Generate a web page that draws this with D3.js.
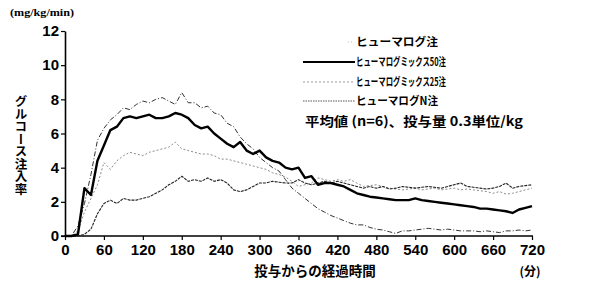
<!DOCTYPE html>
<html lang="ja">
<head>
<meta charset="UTF-8">
<title>グルコース注入率</title>
<script src="https://cdn.jsdelivr.net/npm/d3@7"></script>
<style>
  body { margin: 0; background: #fff; }
  text { fill: #000; }
</style>
</head>
<body>
<script>
// sampling times (min), one value every 10 min
var timeMin = d3.range(0, 721, 10);

// ヒューマログ注
var humalog = [0, 0, 0.6, 1.9, 3.6, 5.6, 6.3, 6.8, 7.1, 7.5,
  7.4, 7.7, 7.9, 7.8, 8.0, 8.1, 7.9, 7.7, 8.4, 7.8,
  7.8, 7.5, 7.6, 7.2, 7.1, 6.6, 6.4, 5.8, 5.4, 5.1,
  4.6, 4.3, 4.0, 3.8, 3.3, 2.8, 2.5, 2.2, 1.9, 1.6,
  1.4, 1.2, 1.05, 0.9, 0.75, 0.65, 0.65, 0.5, 0.4, 0.35,
  0.25, 0.15, 0.3, 0.3, 0.35, 0.4, 0.45, 0.4, 0.35, 0.4,
  0.35, 0.3, 0.3, 0.3, 0.25, 0.3, 0.25, 0.2, 0.3, 0.3,
  0.35, 0.3, 0.35];

// ヒューマログミックス50注
var mix50 = [0, 0, 0.1, 2.8, 2.4, 4.4, 5.3, 6.2, 6.4, 6.9,
  7.0, 6.9, 7.0, 7.1, 6.9, 6.9, 7.0, 7.2, 7.1, 6.9,
  6.5, 6.3, 6.4, 6.0, 5.7, 5.4, 5.2, 5.5, 5.0, 4.8,
  5.0, 4.6, 4.4, 4.3, 4.0, 3.9, 4.0, 3.4, 3.5, 3.0,
  3.1, 3.1, 3.0, 2.9, 2.7, 2.5, 2.4, 2.3, 2.25, 2.2,
  2.15, 2.1, 2.1, 2.1, 2.2, 2.1, 2.05, 2.0, 1.95, 1.9,
  1.85, 1.8, 1.75, 1.7, 1.6, 1.6, 1.55, 1.5, 1.45, 1.35,
  1.55, 1.65, 1.75];

// ヒューマログミックス25注
var mix25 = [0, 0, 0.3, 1.4, 2.2, 3.0, 4.3, 3.9, 4.4, 4.7,
  4.9, 4.8, 4.7, 4.9, 5.0, 5.1, 5.2, 5.5, 5.1, 5.0,
  4.9, 4.8, 4.8, 4.7, 4.5, 4.5, 4.4, 4.3, 4.2, 4.1,
  4.0, 3.9, 3.7, 3.6, 3.45, 3.2, 2.9, 3.0, 3.1, 3.4,
  3.3, 3.2, 3.3, 3.2, 3.3, 3.1, 2.9, 2.95, 3.0, 2.9,
  2.8, 2.75, 2.7, 2.75, 2.8, 2.7, 2.75, 2.8, 2.7, 2.75,
  2.8, 2.7, 2.75, 2.7, 2.65, 2.6, 2.5, 2.6, 2.45, 2.5,
  2.6, 2.7, 2.8];

// ヒューマログN注
var humalogN = [0, 0, 0, 0.1, 0.4, 1.3, 1.9, 2.1, 1.9, 2.2,
  2.1, 2.1, 2.2, 2.3, 2.5, 2.7, 3.0, 3.2, 3.5, 3.2,
  3.3, 3.2, 3.4, 3.2, 3.3, 3.1, 2.7, 2.6, 2.7, 2.9,
  3.1, 3.1, 3.2, 3.15, 3.1, 3.1, 3.3, 3.1, 3.0, 3.1,
  3.2, 3.1, 3.2, 3.1, 3.0, 2.9, 2.8, 2.9, 2.8, 2.9,
  2.75, 2.8, 2.9, 2.85, 2.8, 2.85, 2.9, 2.85, 2.8, 2.9,
  3.0, 3.1, 2.9, 2.85, 2.8, 2.75, 2.8, 2.9, 3.1, 2.8,
  2.9, 2.95, 3.0];

var xTicks = [0, 60, 120, 180, 240, 300, 360, 420, 480, 540, 600, 660, 720];
var yTicks = [0, 2, 4, 6, 8, 10, 12];
var seriesNames = ["ヒューマログ注", "ヒューマログミックス50注", "ヒューマログミックス25注", "ヒューマログN注"];

var width = 616, height = 281;

var svg = d3.select("body").append("svg")
    .attr("width", width)
    .attr("height", height);

svg.append("rect").attr("width", width).attr("height", height).attr("fill", "#fff");

var x = d3.scaleLinear().domain([0, 720]).range([65, 532]);
var y = d3.scaleLinear().domain([0, 12]).range([236, 31]);

// 軸
var xAxis = svg.append("g")
    .attr("transform", "translate(0,236)")
    .call(d3.axisBottom(x).tickValues(xTicks).tickSize(4).tickSizeOuter(0));
xAxis.select(".domain").attr("stroke-width", 1.6).attr("d", "M61,0H533");
xAxis.selectAll(".tick line").attr("stroke-width", 1.2);
xAxis.selectAll(".tick text")
    .attr("y", 8)
    .attr("font-family", "'Liberation Sans', Arial, sans-serif")
    .attr("font-size", 15)
    .attr("font-weight", 600);

var yAxis = svg.append("g")
    .attr("transform", "translate(65,0)")
    .call(d3.axisLeft(y).tickValues(yTicks).tickSize(4).tickSizeOuter(0));
yAxis.select(".domain").attr("stroke-width", 1.6);
yAxis.selectAll(".tick line").attr("stroke-width", 1.2);
yAxis.selectAll(".tick text")
    .attr("x", -6)
    .attr("font-family", "'Liberation Sans', Arial, sans-serif")
    .attr("font-size", 15)
    .attr("font-weight", "bold");

// 線
var styles = [
  {stroke: "#333", w: 1, dash: "5,2,1,2"},
  {stroke: "#000", w: 2.4, dash: null},
  {stroke: "#8a8a8a", w: 1, dash: "2,2"},
  {stroke: "#222", w: 1.1, dash: "3,1"}
];
var allSeries = [humalog, mix50, mix25, humalogN];

var line = d3.line()
    .x(function (d, i) { return x(timeMin[i]); })
    .y(function (d) { return y(d); });

// draw order: thin ones first, thick on top
[2, 0, 3, 1].forEach(function (k) {
  svg.append("path")
      .datum(allSeries[k])
      .attr("fill", "none")
      .attr("stroke", styles[k].stroke)
      .attr("stroke-width", styles[k].w)
      .attr("stroke-dasharray", styles[k].dash)
      .attr("stroke-linejoin", "round")
      .attr("d", line);
});

// 凡例
var legY = [42, 62, 82, 101];
var legLen = [82, 90, 90, 82];
var legSample = [
  {x1: 348, x2: 354, stroke: "#bbb", w: 1, dash: "1,2"},
  {x1: 303, x2: 355, stroke: "#000", w: 2, dash: null},
  {x1: 303, x2: 355, stroke: "#999", w: 1, dash: "2,2"},
  {x1: 303, x2: 355, stroke: "#555", w: 1, dash: "1.5,1"}
];
var leg = svg.append("g");
seriesNames.forEach(function (name, i) {
  leg.append("line")
      .attr("x1", legSample[i].x1).attr("x2", legSample[i].x2)
      .attr("y1", legY[i]).attr("y2", legY[i])
      .attr("stroke", legSample[i].stroke)
      .attr("stroke-width", legSample[i].w)
      .attr("stroke-dasharray", legSample[i].dash);
  leg.append("text")
      .attr("x", 356).attr("y", legY[i] + 4)
      .attr("font-family", "'Noto Sans CJK JP', sans-serif")
      .attr("font-size", 11)
      .attr("font-weight", "bold")
      .attr("textLength", legLen[i])
      .attr("lengthAdjust", "spacingAndGlyphs")
      .text(name);
});

svg.append("text")
    .attr("x", 305).attr("y", 126)
    .attr("font-family", "'Noto Sans CJK JP', sans-serif")
    .attr("font-size", 13)
    .attr("font-weight", "bold")
    .attr("textLength", 218)
    .attr("lengthAdjust", "spacingAndGlyphs")
    .text("平均値 (n=6)、投与量 0.3単位/kg");

// 軸ラベル
svg.append("text")
    .attr("x", 10).attr("y", 16)
    .attr("font-family", "'Liberation Serif', serif")
    .attr("font-size", 10)
    .attr("font-weight", "bold")
    .attr("textLength", 64)
    .attr("lengthAdjust", "spacingAndGlyphs")
    .text("(mg/kg/min)");

svg.append("text")
    .attr("x", 21).attr("y", 95)
    .attr("writing-mode", "vertical-rl")
    .style("writing-mode", "vertical-rl")
    .attr("font-family", "'Noto Sans CJK JP', sans-serif")
    .attr("font-size", 12.5)
    .attr("font-weight", "bold")
    .text("グルコース注入率");

svg.append("text")
    .attr("x", 315).attr("y", 276)
    .attr("text-anchor", "middle")
    .attr("font-family", "'Noto Sans CJK JP', sans-serif")
    .attr("font-size", 13.5)
    .attr("font-weight", "bold")
    .text("投与からの経過時間");

svg.append("text")
    .attr("x", 530).attr("y", 276)
    .attr("text-anchor", "middle")
    .attr("font-family", "'Noto Sans CJK JP', sans-serif")
    .attr("font-size", 12)
    .attr("font-weight", "bold")
    .text("(分)");
</script>
</body>
</html>
